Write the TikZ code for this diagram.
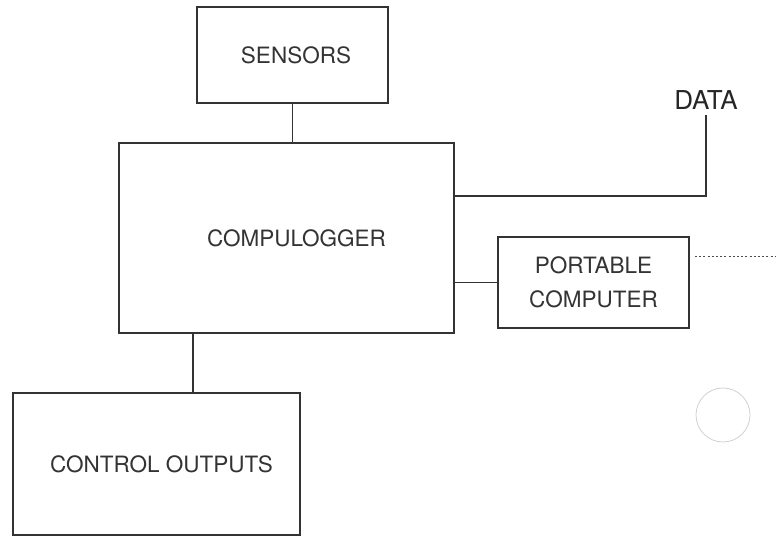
\documentclass[tikz,border=0pt]{standalone}
\usepackage{fontspec}
\setmainfont{TeX Gyre Heros}
\usetikzlibrary{positioning}

\tikzset{
  unitbox/.style={draw=black!80, line width=1.3pt, minimum width=#1, align=center,
    font=\fontsize{22.5}{33.5}\selectfont, text=black!80, inner sep=0pt},
  link/.style={draw=black!80, line width=1.6pt},
  datalink/.style={draw=black!80, line width=1.1pt},
  remote/.style={draw=black!70, line width=1pt, dash pattern=on 2pt off 2.2pt}
}

\begin{document}
\begin{tikzpicture}[x=1pt,y=-1pt]
    \useasboundingbox (0,0) rectangle (776,537);
    % main logger and the units round it
    \node[unitbox=335pt, minimum height=190pt] (logger) at (286.5,238) {\hspace*{20pt}COMPULOGGER};
    \node[unitbox=191pt, minimum height=96pt] (sensors) at (292.5,55) {\hspace*{7pt}SENSORS};
    \node[unitbox=191pt, minimum height=91pt] (portable) at (593.5,282.5) {PORTABLE\\COMPUTER};
    \node[unitbox=287pt, minimum height=142pt] (outputs) at (156.5,464) {\hspace*{10pt}CONTROL OUTPUTS};
    \node[font=\fontsize{26}{30}\selectfont, text=black!85, inner sep=0pt] (data) at (706,100) {DATA};
    % connectors
    \draw[link] (sensors.south) -- (sensors.south |- logger.north);
    \coordinate (ctap) at (193,333);
    \draw[link] (ctap) -- (ctap |- outputs.north);
    \draw[datalink] (logger.east |- portable.west) -- (portable.west);
    \coordinate (datatap) at (454,196);
    \coordinate (datatop) at (706,115);
    \draw[datalink] (datatap) -| (datatop);
    % link off to the right
    \coordinate (linkstart) at (695,257);
    \coordinate (linkend) at (776,257);
    \draw[remote] (linkstart) -- (linkend);
    % punched hole
    \node[circle, draw=black!18, line width=0.8pt, minimum size=54pt, inner sep=0pt] (hole) at (723,415) {};
  \end{tikzpicture}
\end{document}
